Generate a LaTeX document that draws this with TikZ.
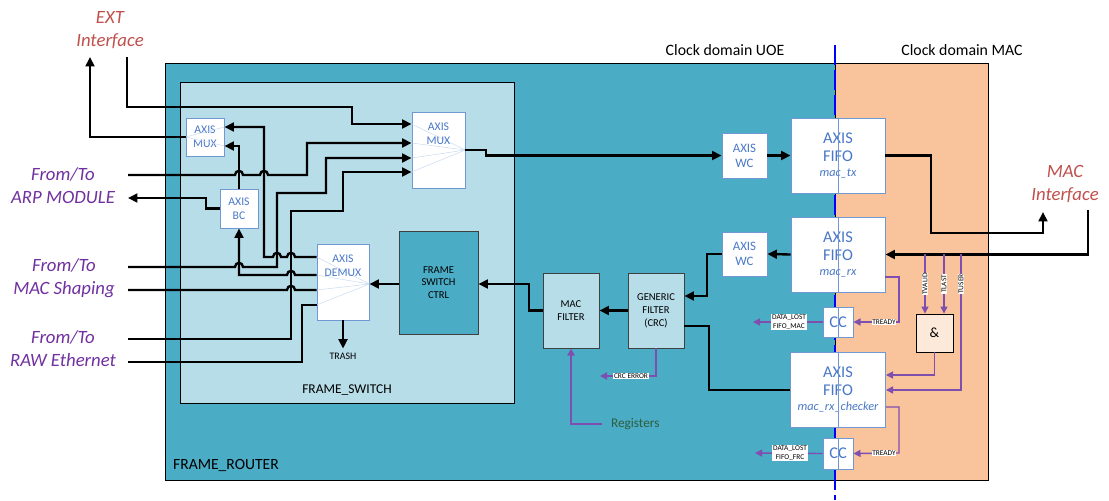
\documentclass[tikz,border=0pt]{standalone}
\usepackage{fontspec}
\setmainfont{Carlito}
\usetikzlibrary{arrows.meta}

\definecolor{routerteal}{HTML}{4BACC6}
\definecolor{switchblue}{HTML}{B7DDE8}
\definecolor{macorange}{HTML}{F9C49B}
\definecolor{boxedge}{HTML}{7298D4}
\definecolor{boxtext}{HTML}{4A78C8}
\definecolor{extred}{HTML}{C0504D}
\definecolor{fromviolet}{HTML}{7030A0}
\definecolor{sigviolet}{HTML}{7F4FB0}
\definecolor{regsgreen}{HTML}{2E5E3E}
\definecolor{faintline}{HTML}{C9D9F0}
\definecolor{andfill}{HTML}{FDE9D9}

\tikzset{
  wire/.style={line width=2pt, line join=miter},
  wirearrow/.style={-{Triangle[length=8pt,width=7.5pt]}},
  wirein/.style={{Triangle[length=8pt,width=7.5pt]}-},
  sig/.style={line width=1.2pt, sigviolet},
  sigarrow/.style={-{Triangle[length=6pt,width=6pt]}},
  hop/.style 2 args={insert path={-- ({#1-4},#2) .. controls ({#1-4},{#2-5.5}) and ({#1+4},{#2-5.5}) .. ({#1+4},#2)}},
  axisbox/.style={draw=boxedge, fill=white, text=boxtext, line width=0.8pt, inner sep=0pt,
    align=center, font=\fontsize{10}{12}\selectfont},
  wcbox/.style={axisbox, font=\fontsize{11}{13}\selectfont},
  fifobox/.style={axisbox, font=\fontsize{14}{15.5}\selectfont},
  filterbox/.style={draw=black!75, fill=switchblue, line width=0.8pt, inner sep=0pt, align=center,
    font=\fontsize{9}{11}\selectfont},
  tinylbl/.style={fill=white, inner sep=0.6pt, align=center, font=\fontsize{6.3}{7.5}\selectfont},
  portlbl/.style={align=center, font=\fontsize{16}{19.6}\selectfont\itshape},
  faint/.style={faintline, line width=0.4pt},
  clockline/.style={blue, line width=2.5pt, dash pattern=on 0.6cm off 0.15cm}
}

\begin{document}
\begin{tikzpicture}[x=0.03cm,y=-0.03cm]
\useasboundingbox (0,0) rectangle (1109,501);

\draw[fill=routerteal, line width=0.8pt] (165,63) rectangle (835,480);
\draw[fill=macorange, line width=0.8pt] (835,63) rectangle (988,480);
\draw[fill=switchblue, line width=0.8pt] (180,82) rectangle (514,403);
\node[anchor=west, font=\fontsize{13.3}{15}\selectfont] (routerlbl) at (169,465) {FRAME\_ROUTER};
\node[font=\fontsize{11.5}{13}\selectfont] (switchlbl) at (347,390) {FRAME\_SWITCH};
\node[font=\fontsize{13.5}{15}\selectfont] (uoelbl) at (725,50) {Clock domain UOE};
\node[font=\fontsize{13.5}{15}\selectfont] (maclbl) at (962,50) {Clock domain MAC};

\coordinate (cdtop) at (835,45);
\coordinate (cdbot) at (835,500);
\draw[clockline] (cdtop) -- (cdbot);

% outside ports
\node[portlbl, text=extred] (ext) at (110,30) {EXT\\Interface};
\node[portlbl, text=extred] (macif) at (1065,184) {MAC\\Interface};
\node[portlbl, text=fromviolet] (arp) at (63,186) {From/To\\ARP MODULE};
\node[portlbl, text=fromviolet] (shaping) at (64,278) {From/To\\MAC Shaping};
\node[portlbl, text=fromviolet] (raw) at (63,349) {From/To\\RAW Ethernet};

% frame switch
\node[axisbox, minimum width=1.14cm, minimum height=1.14cm] (smux) at (205,137) {AXIS\\MUX};
\node[axisbox, minimum width=1.14cm, minimum height=1.17cm] (bc) at (239,208.5) {AXIS\\BC};
\node[axisbox, minimum width=1.59cm, minimum height=2.28cm] (bmux) at (438.5,150) {};
\node[axisbox, minimum width=1.56cm, minimum height=2.28cm] (demux) at (343,282) {};
\foreach \py in {124,143,158,172} \draw[faint] (bmux.west |- 0,\py) -- (bmux.east);
\foreach \py in {257,275,290,305} \draw[faint] (demux.east |- 0,284) -- (demux.west |- 0,\py);
\foreach \py in {127,146} \draw[faint] (smux.east |- 0,\py) -- (smux.west);
\node[text=boxtext, align=center, font=\fontsize{10}{12}\selectfont] (bmuxtxt) at (438.5,134) {AXIS\\MUX};
\node[text=boxtext, align=center, font=\fontsize{10}{12}\selectfont] (demuxtxt) at (343,266) {AXIS\\DEMUX};
\node[draw=black!75, fill=routerteal, line width=0.8pt, align=center, font=\fontsize{9}{10.5}\selectfont,
  minimum width=2.37cm, minimum height=3.09cm] (ctrl) at (438.5,282.5) {FRAME\\SWITCH\\CTRL};
\node[font=\fontsize{8.5}{10}\selectfont] (trash) at (343,356) {TRASH};

% router
\node[wcbox, minimum width=1.35cm, minimum height=1.35cm] (wctx) at (744.5,155.5) {AXIS\\WC};
\node[wcbox, minimum width=1.35cm, minimum height=1.32cm] (wcrx) at (744.5,254) {AXIS\\WC};
\node[filterbox, minimum width=1.68cm, minimum height=2.25cm] (macf) at (571,310.5) {MAC\\FILTER};
\node[filterbox, minimum width=1.68cm, minimum height=2.25cm] (genf) at (656,310.5) {GENERIC\\FILTER\\(CRC)};
\node[fifobox, minimum width=2.82cm, minimum height=2.25cm] (fifotx) at (838,155.5)
  {AXIS\\FIFO\\[-2pt]{\fontsize{10.5}{12}\selectfont\itshape mac\_tx}};
\node[fifobox, minimum width=2.82cm, minimum height=2.25cm] (fiforx) at (838,254.5)
  {AXIS\\FIFO\\[-2pt]{\fontsize{10.5}{12}\selectfont\itshape mac\_rx}};
\node[fifobox, minimum width=2.85cm, minimum height=2.25cm] (fifock) at (838,389.5)
  {AXIS\\FIFO\\[-2pt]{\fontsize{10.5}{12}\selectfont\itshape mac\_rx\_checker}};
\node[fifobox, minimum width=0.9cm, minimum height=0.9cm] (cctop) at (838,322) {CC};
\node[fifobox, minimum width=0.9cm, minimum height=0.93cm] (ccbot) at (838,453.5) {CC};
\foreach \bx in {fifotx,fiforx,fifock,cctop,ccbot} \draw[boxedge, line width=0.8pt] (\bx.north) -- (\bx.south);
\node[draw, fill=andfill, line width=0.8pt, minimum width=1.11cm, minimum height=1.14cm,
  font=\fontsize{12}{14}\selectfont] (andg) at (934.5,333) {\&};

% ext / arp / shaping / raw wires
\coordinate (extin) at (127,57);
\coordinate (extout) at (90,57);
\coordinate (arpin) at (128,175);
\coordinate (arpout) at (128,198);
\coordinate (shapein) at (128,267);
\coordinate (shapeout) at (128,290);
\coordinate (rawin) at (128,339);
\coordinate (rawout) at (128,362);

\draw[wire, wirearrow] (extin) |- (352,107) |- (bmux.west |- 0,124);
\draw[wire, wirearrow] (smux.west) -| (extout);
\draw[wire, wirearrow] (arpin) [hop={239}{175}] [hop={264}{175}] -- (307,175) |- (bmux.west |- 0,143);
\draw[wire, wirearrow] (bc.west) -- (206,208.5) |- (arpout);
\draw[wire, wirearrow] (bc.north) |- (smux.east |- 0,146);
\draw[wire, wirein] (smux.east |- 0,127) -| (264,257) [hop={277}{257}] [hop={291}{257}] -- (demux.west |- 0,257);
\draw[wire, wirein] (bc.south) |- (260,275) [hop={291}{275}] -- (demux.west |- 0,275);
\draw[wire, wirearrow] (shapein) [hop={239}{267}] -- (277,267) |- (326,193) |- (bmux.west |- 0,158);
\draw[wire] (shapeout) [hop={291}{290}] -- (demux.west |- 0,290);
\draw[wire, wirearrow] (rawin) -- (291,339) |- (343,211) |- (bmux.west |- 0,172);
\draw[wire] (rawout) -| (302,305) -- (demux.west |- 0,305);
\draw[wire, wirearrow] (demux.south) -- (trash.north);
\draw[wire, wirearrow] (ctrl.west |- 0,284) -- (demux.east |- 0,284);

% datapath
\coordinate (macout) at (1043,212);
\coordinate (macin) at (1088,210);
\draw[wire, wirearrow] (bmux.east) -- (486,150) |- (wctx.west);
\draw[wire, wirearrow] (wctx.east) -- (fifotx.west |- wctx.east);
\draw[wire, wirearrow] (fifotx.east) -| (931,233) -| (macout);
\draw[wire, wirearrow] (macin) |- (fiforx.east);
\draw[wire, wirearrow] (fiforx.west) -- (wcrx.east);
\draw[wire, wirearrow] (wcrx.west) -| (707,296) -- (genf.east |- 0,296);
\draw[wire, wirearrow] (genf.west) -- (macf.east);
\draw[wire, wirearrow] (macf.west) -| (529,284) -- (ctrl.east |- 0,284);
\draw[wire] (genf.east |- 0,326) -| (709,390) -- (fifock.west |- 0,390);

% status signals
\coordinate (crcout) at (600,376);
\coordinate (regs) at (602,424);
\coordinate (lostmac) at (753,322);
\coordinate (lostfrc) at (755,453);
\coordinate (tvalidtap) at (925,254);
\coordinate (tlasttap) at (944,254);
\coordinate (tusertap) at (961,254);

\draw[sig, sigarrow] (genf.south) |- (crcout);
\node[tinylbl] (crclbl) at (631,376) {CRC ERROR};
\draw[sig, sigarrow, line width=1.6pt] (regs) -| (macf.south);
\node[anchor=west, text=regsgreen, font=\fontsize{11.3}{13}\selectfont] (regslbl) at (607,424) {Registers};
\draw[sig, sigarrow] (cctop.west) -- (lostmac);
\node[tinylbl] (lostmaclbl) at (789,322) {DATA\_LOST\\FIFO\_MAC};
\draw[sig, sigarrow] (ccbot.west) -- (lostfrc);
\node[tinylbl] (lostfrclbl) at (790,453) {DATA\_LOST\\FIFO\_FRC};
\draw[sig, sigarrow] (fiforx.east |- 0,277) -| (899,322) -- (cctop.east);
\node[tinylbl] (treadymac) at (884,322) {TREADY};
\draw[sig, sigarrow] (fifock.east |- 0,407) -| (899,453) -- (ccbot.east);
\node[tinylbl] (treadyfrc) at (884,453) {TREADY};
\draw[sig, sigarrow] (tvalidtap) -- (andg.north -| tvalidtap);
\draw[sig, sigarrow] (tlasttap) -- (andg.north -| tlasttap);
\draw[sig, sigarrow] (tusertap) |- (fifock.east |- 0,390);
\draw[sig, sigarrow] (andg.south) |- (fifock.east |- 0,375);
\node[tinylbl, rotate=90] (tvalidlbl) at (925,284) {TVALID};
\node[tinylbl, rotate=90] (tlastlbl) at (944,284) {TLAST};
\node[tinylbl, rotate=90] (tuserlbl) at (961,284) {TUSER};
\end{tikzpicture}
\end{document}
